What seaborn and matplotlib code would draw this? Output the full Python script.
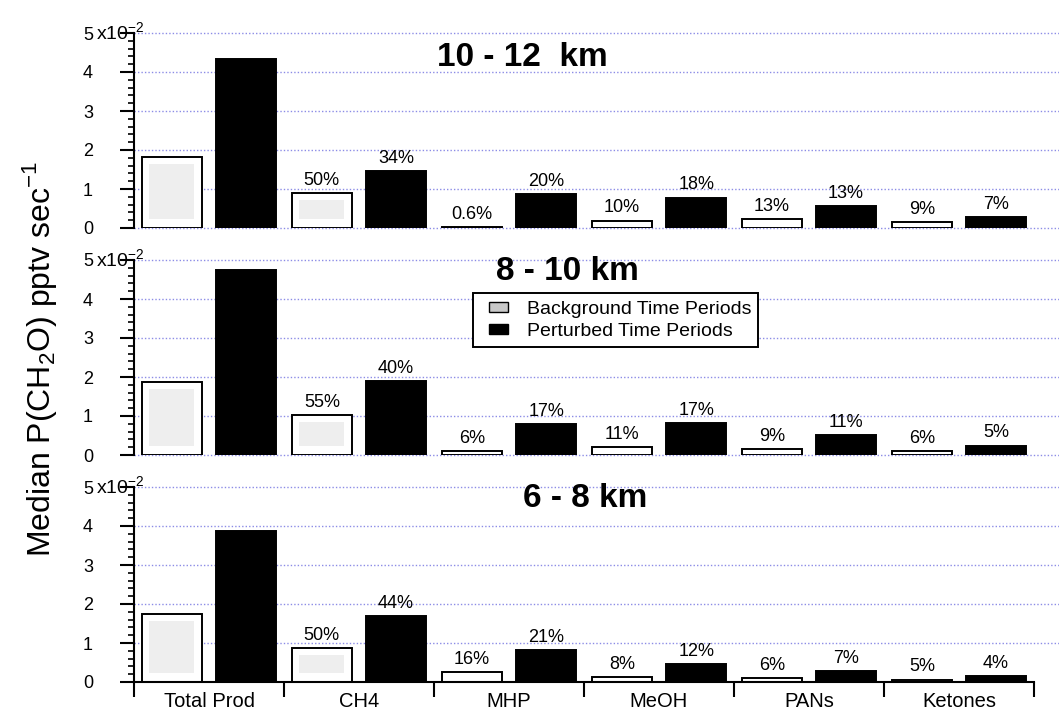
import matplotlib
matplotlib.use('Agg')
import matplotlib.pyplot as plt
import matplotlib.patches as mpatches
from matplotlib.legend_handler import HandlerPatch
from matplotlib.ticker import MultipleLocator, FixedLocator, NullFormatter
import pandas as pd
import seaborn as sns

# Data (units of 1e-2 pptv/s)
categories = ['Total Prod', 'CH4', 'MHP', 'MeOH', 'PANs', 'Ketones']
periods = ['Background Time Periods', 'Perturbed Time Periods']

bg_10_12 = [1.82, 0.90, 0.03, 0.19, 0.23, 0.16]
pt_10_12 = [4.33, 1.46, 0.87, 0.78, 0.56, 0.29]
bg_pct_10_12 = ['', '50%', '0.6%', '10%', '13%', '9%']
pt_pct_10_12 = ['', '34%', '20%', '18%', '13%', '7%']

bg_8_10 = [1.86, 1.02, 0.11, 0.20, 0.15, 0.10]
pt_8_10 = [4.74, 1.89, 0.80, 0.81, 0.52, 0.24]
bg_pct_8_10 = ['', '55%', '6%', '11%', '9%', '6%']
pt_pct_8_10 = ['', '40%', '17%', '17%', '11%', '5%']

bg_6_8 = [1.74, 0.87, 0.26, 0.13, 0.09, 0.06]
pt_6_8 = [3.87, 1.69, 0.81, 0.46, 0.27, 0.16]
bg_pct_6_8 = ['', '50%', '16%', '8%', '6%', '5%']
pt_pct_6_8 = ['', '44%', '21%', '12%', '7%', '4%']

yticks = [0, 1, 2, 3, 4, 5]

panels = [
    ('10 - 12  km', bg_10_12, pt_10_12, bg_pct_10_12, pt_pct_10_12, (2.09, 4.38)),
    ('8 - 10 km', bg_8_10, pt_8_10, bg_pct_8_10, pt_pct_8_10, (2.39, 4.70)),
    ('6 - 8 km', bg_6_8, pt_6_8, bg_pct_6_8, pt_pct_6_8, (2.51, 4.70)),
]

sns.set_style('white', {'text.color': 'black', 'axes.labelcolor': 'black',
                        'xtick.color': 'black', 'ytick.color': 'black',
                        'axes.edgecolor': 'black'})
plt.rcParams['font.family'] = ['Liberation Sans', 'DejaVu Sans']
plt.rcParams['mathtext.fontset'] = 'custom'
plt.rcParams['mathtext.rm'] = 'Liberation Sans'


def small_square(legend, orig_handle, xdescent, ydescent, width, height, fontsize):
    # legend key drawn as a small box at the right end of the handle area
    w, h = 13.7, 7.2
    return mpatches.Rectangle((-xdescent + width - w, -ydescent + (height - h) / 2), w, h)


fig = plt.figure(figsize=(10.59, 7.11), dpi=100)
W, H = 1059, 711
left = 134 / W
width = 1 - left
ax_h = 195 / H
bottoms = [(H - 228) / H, (H - 455) / H, (H - 682) / H]

grid_color = '#8c8ce6'

for i, (title, bg, pt, bg_pct, pt_pct, tpos) in enumerate(panels):
    ax = fig.add_axes([left, bottoms[i], width, ax_h])
    df = pd.DataFrame({
        'category': categories * 2,
        'value': bg + pt,
        'period': [periods[0]] * 6 + [periods[1]] * 6,
    })
    sns.barplot(data=df, x='category', y='value', hue='period', order=categories,
                hue_order=periods, palette=['white', 'black'], saturation=1,
                edgecolor='black', linewidth=1.4, width=0.99, gap=0.19,
                legend=False, ax=ax)

    # light grey shading inside the taller background bars
    for p in ax.containers[0]:
        h = p.get_height()
        if h > 0.5:
            ax.add_patch(mpatches.Rectangle((p.get_x() + 0.045, 0.22),
                                            p.get_width() - 0.1, h - 0.39,
                                            facecolor='#eeeeee', edgecolor='none',
                                            zorder=p.get_zorder() + 0.1))

    ax.bar_label(ax.containers[0], labels=bg_pct, padding=3, fontsize=13)
    ax.bar_label(ax.containers[1], labels=pt_pct, padding=3, fontsize=13)

    ax.set_xlim(-0.5, -0.5 + 925 / 150)
    ax.set_ylim(0, 5)
    ax.set_axisbelow(True)
    for y in yticks:
        if i == 2 and y == 0:
            continue
        ax.axhline(y, color=grid_color, linestyle=(0, (1, 1.5)), linewidth=1.0,
                   zorder=0, clip_on=False)

    for s in ['top', 'right']:
        ax.spines[s].set_visible(False)
    ax.spines['left'].set_linewidth(1.5)
    ax.spines['left'].set_bounds(0, 5)

    ax.yaxis.set_major_locator(FixedLocator(yticks))
    ax.yaxis.set_minor_locator(MultipleLocator(0.2))
    ax.set_yticklabels([str(t) for t in yticks])
    ax.tick_params(axis='y', which='major', direction='out', length=10, width=1.5,
                   labelsize=13, pad=19.5, left=True)
    ax.tick_params(axis='y', which='minor', direction='out', length=4.5, width=1.2, left=True)
    ax.annotate('x10$^{-2}$', xy=(0, 5), xycoords=('axes fraction', 'data'),
                xytext=(-27.5, 0), textcoords='offset points', fontsize=14,
                ha='left', va='center')

    ax.set_xlabel('')
    ax.set_ylabel('')
    ax.text(tpos[0], tpos[1], title, fontsize=24, fontweight='bold',
            ha='center', va='center')

    if i < 2:
        ax.spines['bottom'].set_visible(False)
        ax.tick_params(axis='x', which='both', bottom=False, labelbottom=False)
    else:
        ax.spines['bottom'].set_linewidth(1.5)
        ax.spines['bottom'].set_bounds(-0.5, 5.5)
        ax.xaxis.set_major_locator(FixedLocator([k - 0.5 for k in range(7)]))
        ax.xaxis.set_major_formatter(NullFormatter())
        ax.xaxis.set_minor_locator(FixedLocator(range(6)))
        ax.set_xticklabels(categories, minor=True)
        ax.tick_params(axis='x', which='major', direction='out', length=11, width=1.5,
                       bottom=True)
        ax.tick_params(axis='x', which='minor', length=0, labelsize=14.5, pad=7)

    if i == 1:
        handles = [mpatches.Patch(facecolor='#c8c8c8', edgecolor='black', linewidth=1),
                   mpatches.Patch(facecolor='black', edgecolor='black')]
        leg = ax.legend(handles, periods, loc='upper left',
                        bbox_to_anchor=(0.366, 0.83), fontsize=14, frameon=True,
                        fancybox=False, edgecolor='black', framealpha=1,
                        handlelength=1.45, handleheight=0.8, borderpad=0.35,
                        labelspacing=0.2, handletextpad=1.0, borderaxespad=0,
                        handler_map={mpatches.Patch: HandlerPatch(patch_func=small_square)})
        leg.get_frame().set_linewidth(1.4)

fig.text(40 / W, (H - 359) / H, 'Median P(CH$_2$O) pptv sec$^{-1}$', rotation=90,
         fontsize=23, ha='center', va='center')

fig.savefig('out.png', dpi=100)
